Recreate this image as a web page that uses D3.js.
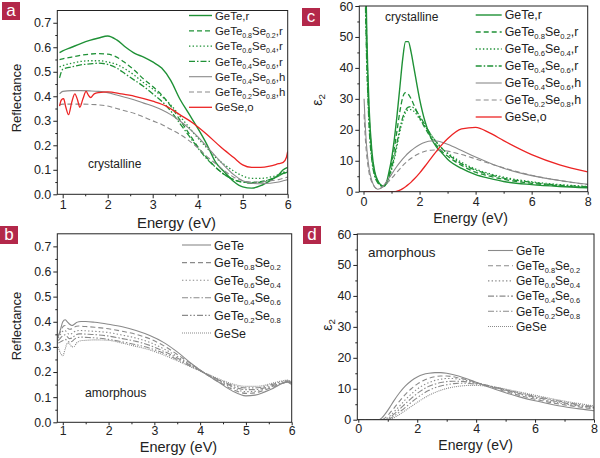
<!DOCTYPE html>
<html><head><meta charset="utf-8">
<script src="https://cdn.jsdelivr.net/npm/d3@7"></script>
<style>body{margin:0;background:#fff}svg{display:block;font-family:"Liberation Sans",Arial,sans-serif}</style>
</head><body><svg id="chart" width="600" height="458"></svg>
<script>
// ---------- Panel a: crystalline reflectance ----------
const eA = [0.93,1.0,1.2,1.4,1.6,1.8,2.0,2.2,2.4,2.6,2.8,3.0,3.2,3.4,3.6,3.8,4.0,4.2,4.4,4.6,4.8,5.0,5.2,5.4,5.6,5.8,5.9,6.0];
const rGeTe_r   = [0.578,0.585,0.60,0.615,0.628,0.638,0.646,0.63,0.60,0.575,0.56,0.54,0.515,0.465,0.39,0.33,0.27,0.205,0.13,0.09,0.052,0.03,0.025,0.035,0.055,0.08,0.1,0.11];
const rTe08_r   = [0.55,0.553,0.56,0.567,0.572,0.574,0.572,0.56,0.535,0.505,0.47,0.44,0.405,0.36,0.305,0.25,0.195,0.15,0.11,0.08,0.06,0.05,0.048,0.052,0.06,0.075,0.085,0.09];
const rTe06_r   = [0.52,0.525,0.535,0.542,0.545,0.545,0.54,0.53,0.51,0.485,0.455,0.43,0.40,0.365,0.32,0.275,0.23,0.19,0.15,0.12,0.095,0.075,0.065,0.065,0.07,0.08,0.09,0.095];
const rTe04_r   = [0.475,0.51,0.52,0.528,0.532,0.535,0.53,0.515,0.49,0.465,0.44,0.41,0.38,0.34,0.29,0.24,0.19,0.145,0.11,0.08,0.06,0.05,0.045,0.05,0.06,0.075,0.085,0.09];
const rTe04_h   = [0.41,0.42,0.423,0.423,0.422,0.42,0.415,0.405,0.395,0.385,0.372,0.36,0.345,0.325,0.30,0.27,0.235,0.195,0.155,0.115,0.08,0.055,0.045,0.043,0.045,0.05,0.055,0.06];
const rTe02_h   = [0.365,0.368,0.368,0.368,0.367,0.365,0.36,0.35,0.34,0.33,0.315,0.30,0.285,0.265,0.245,0.22,0.19,0.155,0.125,0.095,0.07,0.055,0.05,0.05,0.055,0.06,0.065,0.07];
const eRed = [0.93,0.97,1.02,1.07,1.13,1.2,1.27,1.33,1.38,1.45,1.52,1.57,1.62,1.7,1.8,2.0,2.3,2.6,3.0,3.3,3.6,3.9,4.2,4.5,4.8,5.0,5.2,5.4,5.6,5.8,5.9,5.97,6.0];
const rGeSe_o = [0.36,0.385,0.39,0.355,0.325,0.375,0.41,0.385,0.355,0.39,0.42,0.405,0.395,0.41,0.415,0.418,0.41,0.40,0.38,0.36,0.325,0.29,0.245,0.195,0.15,0.12,0.11,0.11,0.115,0.125,0.13,0.15,0.175];

// ---------- Panel c: crystalline eps2 ----------
const eC = [0.02,0.06,0.1,0.15,0.2,0.3,0.4,0.5,0.6,0.7,0.8,0.9,1.0,1.1,1.2,1.3,1.4,1.5,1.6,1.7,1.8,2.0,2.2,2.4,2.6,2.8,3.0,3.5,4.0,4.5,5.0,6.0,7.0,8.0];
const sGeTe_r = [200,90,60,40,27,13,6.5,3.8,2.3,1.7,2.5,6,10.5,17,25,34,43,48.5,48.5,45,40,30,22.5,17.5,14.5,12.5,10.5,7.5,5.5,4.3,3.3,2.3,1.7,1.3];
const sTe08_r = [180,80,55,37,25,12,6,3.5,2.3,1.8,2.5,5,9,14,20,26,30.5,32,31.5,30,28,24,20.5,17.5,15,13,11.5,8.5,6.3,5,4,2.7,1.9,1.4];
const sTe06_r = [170,75,50,34,23,11,5.5,3.2,2.2,1.8,2.3,4,7,10.5,15,19.5,23,25.5,26.5,26.5,26,23.5,21,18.5,16,14,12.5,9.5,7.3,5.8,4.7,3.2,2.3,1.7];
const sTe04_r = [160,70,47,32,21,10,5,3,2,1.7,2.4,4.5,7.5,11.5,16,20.5,24,26.3,27.3,27.5,27,24.5,21.5,18.5,16,14,12.3,9,7,5.5,4.4,3,2.1,1.6];
const sTe04_h = [30,22,16,11,7.5,3.5,1.5,0.8,1.0,1.8,3,4.3,5.6,7,8.3,9.5,10.6,11.6,12.5,13.3,14,15.2,16,16.4,16.4,16,15.3,13.3,11.2,9.3,7.6,5.2,3.6,2.4];
const sTe02_h = [25,18,13,9,6,3,1.5,1,1.1,1.6,2.4,3.3,4.3,5.3,6.4,7.4,8.4,9.3,10.1,10.8,11.4,12.4,13.1,13.4,13.5,13.4,13.1,12,10.6,9.1,7.7,5.3,3.6,2.3];
const sGeSe_o = [0,0,0,0,0,0,0,0,0,0,0,0,0,0,0.2,0.5,1.0,1.6,2.3,3.1,4.0,6.0,8.3,10.7,13,15.2,17.1,20.3,20.8,19.0,16.5,12.0,8.7,6.4];

// ---------- Panel b: amorphous reflectance ----------
const eB = [0.9,0.95,1.0,1.05,1.1,1.15,1.2,1.25,1.3,1.35,1.4,1.5,1.7,2.0,2.3,2.6,2.9,3.2,3.5,3.8,4.1,4.4,4.7,5.0,5.2,5.4,5.6,5.8,5.9,6.0];
const aGeTe   = [0.34,0.37,0.40,0.408,0.40,0.39,0.385,0.39,0.397,0.40,0.401,0.401,0.398,0.39,0.38,0.365,0.345,0.318,0.28,0.235,0.195,0.16,0.125,0.105,0.108,0.12,0.135,0.155,0.16,0.15];
const aTe08   = [0.345,0.36,0.38,0.385,0.375,0.37,0.372,0.378,0.382,0.383,0.382,0.381,0.378,0.372,0.362,0.35,0.332,0.305,0.27,0.233,0.195,0.162,0.132,0.115,0.117,0.128,0.14,0.155,0.16,0.155];
const aTe06   = [0.335,0.35,0.362,0.365,0.355,0.35,0.353,0.36,0.364,0.365,0.365,0.364,0.362,0.357,0.347,0.335,0.318,0.293,0.262,0.228,0.195,0.165,0.138,0.122,0.123,0.132,0.143,0.155,0.16,0.155];
const aTe04   = [0.325,0.335,0.345,0.348,0.34,0.333,0.335,0.343,0.349,0.352,0.352,0.351,0.349,0.343,0.333,0.322,0.306,0.283,0.256,0.226,0.196,0.168,0.143,0.13,0.13,0.137,0.147,0.158,0.162,0.158];
const aTe02   = [0.315,0.32,0.325,0.33,0.325,0.318,0.322,0.33,0.336,0.338,0.339,0.338,0.336,0.33,0.32,0.309,0.295,0.275,0.25,0.222,0.196,0.17,0.148,0.137,0.137,0.142,0.152,0.162,0.165,0.16];
const aGeSe   = [0.30,0.275,0.265,0.29,0.315,0.312,0.30,0.302,0.315,0.322,0.325,0.326,0.328,0.326,0.315,0.302,0.288,0.268,0.245,0.22,0.197,0.173,0.153,0.143,0.143,0.147,0.157,0.165,0.168,0.163];

// ---------- Panel d: amorphous eps2 ----------
const eD = [0,0.5,0.7,0.8,0.9,1.0,1.1,1.2,1.4,1.6,1.8,2.0,2.2,2.4,2.6,2.8,3.0,3.2,3.4,3.6,3.8,4.0,4.3,4.6,5.0,5.5,6.0,6.5,7.0,7.5,8.0];
const dGeTe = [0,0,0,0.6,1.7,3.0,4.5,6.0,8.7,10.9,12.6,13.8,14.6,15.0,15.2,15.2,15.0,14.6,14.1,13.5,12.8,12.1,11.0,10.0,8.7,7.3,6.1,5.1,4.2,3.5,2.9];
const dTe08 = [0,0,0,0,0.5,1.4,2.5,3.6,6.0,8.2,10.0,11.5,12.6,13.4,13.9,14.1,14.1,13.9,13.5,13.1,12.6,12.1,11.2,10.3,9.1,7.8,6.6,5.6,4.8,4.1,3.5];
const dTe06 = [0,0,0,0,0,0.6,1.4,2.4,4.4,6.5,8.3,9.9,11.1,12.0,12.7,13.1,13.3,13.3,13.1,12.8,12.4,12.0,11.3,10.5,9.4,8.2,7.0,6.0,5.1,4.4,3.8];
const dTe04 = [0,0,0,0,0,0.3,0.9,1.7,3.4,5.2,6.9,8.5,9.8,10.8,11.5,12.0,12.3,12.4,12.4,12.3,12.1,11.8,11.3,10.6,9.6,8.4,7.3,6.3,5.4,4.6,4.0];
const dTe02 = [0,0,0,0,0,0.1,0.5,1.1,2.5,4.0,5.6,7.1,8.4,9.5,10.3,10.9,11.3,11.6,11.8,11.8,11.7,11.5,11.1,10.6,9.7,8.6,7.6,6.6,5.7,4.9,4.2];
const dGeSe = [0,0,0,0,0,0,0.2,0.6,1.7,3.0,4.3,5.6,6.8,7.9,8.8,9.5,10.1,10.5,10.8,11.0,11.1,11.1,10.9,10.6,9.9,8.9,7.9,6.9,6.0,5.2,4.4];

// ---------- labels ----------
const legendCrys = ["GeTe,r","GeTe_{0.8}Se_{0.2},r","GeTe_{0.6}Se_{0.4},r","GeTe_{0.4}Se_{0.6},r","GeTe_{0.4}Se_{0.6},h","GeTe_{0.2}Se_{0.8},h","GeSe,o"];
const legendAmor = ["GeTe","GeTe_{0.8}Se_{0.2}","GeTe_{0.6}Se_{0.4}","GeTe_{0.4}Se_{0.6}","GeTe_{0.2}Se_{0.8}","GeSe"];
const ticksRefl = [0,0.1,0.2,0.3,0.4,0.5,0.6,0.7];
const ticksEps = [0,10,20,30,40,50,60];
const ticksEA = [1,2,3,4,5,6];
const ticksEC = [0,2,4,6,8];

// ---------- styles ----------
const GREEN="#1f9136", GRAY="#8a8a8a", RED="#ec2424";
const DASH={solid:null,dash:"5,3",dot:"1.4,2.2",dashdot:"6,2,1.5,2",dashdotdot:"6,2,1.5,2,1.5,2",fine:"1,1"};
const crysStyles=[[GREEN,"solid",1.4],[GREEN,"dash",1.3],[GREEN,"dot",1.3],[GREEN,"dashdot",1.3],[GRAY,"solid",1.1],[GRAY,"dash",1.1],[RED,"solid",1.3]];
const amorStyles=[[GRAY,"solid",1.1],[GRAY,"dash",1.1],[GRAY,"dot",1.1],[GRAY,"dashdot",1.1],[GRAY,"dashdotdot",1.1],[GRAY,"fine",1.1]];

const svg=d3.select("#chart");
const INK="#222";

function richText(sel, str, subSize){
  const parts=str.split(/_\{([^}]*)\}/);
  let prevSub=false;
  parts.forEach((p,i)=>{
    if(p==="") { return; }
    const isSub=i%2===1;
    const t=sel.append("tspan").text(p);
    if(isSub){ t.attr("font-size",subSize).attr("dy",prevSub?0:3); }
    else { t.attr("dy",prevSub?-3:0); }
    prevSub=isSub;
  });
}

let clipId=0;
function panel(o){
  const x=d3.scaleLinear().domain(o.xd).range([o.L,o.R]);
  const y=d3.scaleLinear().domain(o.yd).range([o.B,o.T]);
  const g=svg.append("g");
  const cid="clip"+(clipId++);
  g.append("clipPath").attr("id",cid).append("rect").attr("x",o.L).attr("y",o.T).attr("width",o.R-o.L).attr("height",o.B-o.T);
  const plot=g.append("g").attr("clip-path",`url(#${cid})`);
  o.series.forEach((s,i)=>{
    const st=o.styles[i];
    const pts=s.e.map((e,k)=>[e,s.v[k]]);
    plot.append("path").datum(pts)
      .attr("d",d3.line().x(d=>x(d[0])).y(d=>y(Math.min(d[1],o.yd[1]*3))).curve(d3.curveMonotoneX))
      .attr("fill","none").attr("stroke",st[0]).attr("stroke-width",st[2])
      .attr("stroke-dasharray",DASH[st[1]]);
  });
  const fs=o.tickFs;
  const ax=g.append("g").attr("transform",`translate(0,${o.B})`)
    .call(d3.axisBottom(x).tickValues(o.xt).tickSize(o.tk).tickSizeOuter(0).tickPadding(o.xpad).tickFormat(d3.format("d")));
  const axm=g.append("g").attr("transform",`translate(0,${o.B})`)
    .call(d3.axisBottom(x).tickValues(o.xm).tickSize(2).tickSizeOuter(0).tickFormat(""));
  const ay=g.append("g").attr("transform",`translate(${o.L},0)`)
    .call(d3.axisLeft(y).tickValues(o.yt).tickSize(4).tickSizeOuter(0).tickPadding(2).tickFormat(o.yf));
  const aym=g.append("g").attr("transform",`translate(${o.L},0)`)
    .call(d3.axisLeft(y).tickValues(o.ym).tickSize(2).tickSizeOuter(0).tickFormat(""));
  [ax,axm,ay,aym].forEach(a=>{
    a.select(".domain").remove();
    a.selectAll("line").attr("stroke",INK);
    a.selectAll("text").attr("font-family","Liberation Sans, Arial, sans-serif").attr("font-size",fs).attr("fill",INK);
  });
  g.append("rect").attr("x",o.L).attr("y",o.T).attr("width",o.R-o.L).attr("height",o.B-o.T)
    .attr("fill","none").attr("stroke",INK).attr("stroke-width",1);
  g.append("text").attr("x",(o.L+o.R)/2+o.xtDx).attr("y",o.xtY).attr("text-anchor","middle")
    .attr("font-size",o.titleFs).attr("fill",INK).text("Energy (eV)");
  const yt=g.append("text").attr("transform",`translate(${o.ytX},${o.ytY}) rotate(-90)`)
    .attr("text-anchor","middle").attr("font-size",o.ytFs).attr("fill",INK);
  if(o.eps){ yt.append("tspan").text("ε"); yt.append("tspan").attr("font-size",o.ytFs*0.7).attr("dy",3).text("2"); }
  else yt.text("Reflectance");
  g.append("text").attr("x",o.noteX).attr("y",o.noteY).attr("font-size",o.noteFs).attr("fill",INK).text(o.note);
  o.legend.forEach((lab,i)=>{
    const st=o.styles[i];
    const yy=o.lgY+i*o.lgDy;
    g.append("line").attr("x1",o.lgX1).attr("x2",o.lgX2).attr("y1",yy).attr("y2",yy)
      .attr("stroke",st[0]).attr("stroke-width",st[2]).attr("stroke-dasharray",DASH[st[1]]);
    const t=g.append("text").attr("x",o.lgX2+3).attr("y",yy+o.lgFs*0.36).attr("font-size",o.lgFs).attr("fill",INK);
    richText(t,lab,o.lgFs*0.62);
  });
  g.append("rect").attr("x",o.tag[0]).attr("y",o.tag[1]).attr("width",18).attr("height",18).attr("fill","#b3284a");
  g.append("text").attr("x",o.tag[0]+9).attr("y",o.tag[1]+14).attr("text-anchor","middle")
    .attr("font-size",17).attr("fill","#fff").text(o.letter);
}

// Panel a
panel({L:57.3,R:287.7,T:10.5,B:194.3,xd:[0.88,6],yd:[0,0.75],xt:ticksEA,xm:[1.5,2.5,3.5,4.5,5.5],
  yt:ticksRefl,ym:[0.05,0.15,0.25,0.35,0.45,0.55,0.65],yf:d3.format(".1f"),tickFs:12.5,tk:4,xpad:2,
  series:[{e:eA,v:rGeTe_r},{e:eA,v:rTe08_r},{e:eA,v:rTe06_r},{e:eA,v:rTe04_r},{e:eA,v:rTe04_h},{e:eA,v:rTe02_h},{e:eRed,v:rGeSe_o}],
  styles:crysStyles,legend:legendCrys,lgX1:189,lgX2:212,lgY:15.5,lgDy:15.3,lgFs:11.4,
  titleFs:14.8,xtDx:4,xtY:227.5,ytX:21,ytY:98,ytFs:13,eps:false,
  note:"crystalline",noteX:88,noteY:168,noteFs:12,tag:[2,2],letter:"a"});
// Panel c
panel({L:359.3,R:587.7,T:6,B:191.7,xd:[-0.15,8],yd:[0,60],xt:ticksEC,xm:[1,3,5,7],
  yt:ticksEps,ym:[5,15,25,35,45,55],yf:d3.format("d"),tickFs:12.5,tk:3,xpad:2,
  series:[{e:eC,v:sGeTe_r},{e:eC,v:sTe08_r},{e:eC,v:sTe06_r},{e:eC,v:sTe04_r},{e:eC,v:sTe04_h},{e:eC,v:sTe02_h},{e:eC,v:sGeSe_o}],
  styles:crysStyles,legend:legendCrys,lgX1:475.7,lgX2:501.7,lgY:15,lgDy:17,lgFs:12.4,
  titleFs:14,xtDx:-3,xtY:223,ytX:322,ytY:100,ytFs:14,eps:true,
  note:"crystalline",noteX:385,noteY:21,noteFs:12,tag:[302,8],letter:"c"});
// Panel b
panel({L:57.3,R:291.7,T:233.8,B:422.3,xd:[0.88,6],yd:[0,0.75],xt:ticksEA,xm:[1.5,2.5,3.5,4.5,5.5],
  yt:ticksRefl,ym:[0.05,0.15,0.25,0.35,0.45,0.55,0.65],yf:d3.format(".1f"),tickFs:12.3,tk:3,xpad:1,
  series:[{e:eB,v:aGeTe},{e:eB,v:aTe08},{e:eB,v:aTe06},{e:eB,v:aTe04},{e:eB,v:aTe02},{e:eB,v:aGeSe}],
  styles:amorStyles,legend:legendAmor,lgX1:182,lgX2:211,lgY:245,lgDy:17.6,lgFs:12.5,
  titleFs:14.5,xtDx:4,xtY:451.5,ytX:21,ytY:326,ytFs:13,eps:false,
  note:"amorphous",noteX:85,noteY:397,noteFs:12.3,tag:[0,226],letter:"b"});
// Panel d
panel({L:357.3,R:594,T:234,B:419.7,xd:[-0.034,8],yd:[0,60],xt:ticksEC,xm:[1,3,5,7],
  yt:ticksEps,ym:[5,15,25,35,45,55],yf:d3.format("d"),tickFs:12.5,tk:3,xpad:1,
  series:[{e:eD,v:dGeTe},{e:eD,v:dTe08},{e:eD,v:dTe06},{e:eD,v:dTe04},{e:eD,v:dTe02},{e:eD,v:dGeSe}],
  styles:amorStyles,legend:legendAmor,lgX1:488,lgX2:513,lgY:250.5,lgDy:15.2,lgFs:12,
  titleFs:14,xtDx:0,xtY:450,ytX:332,ytY:325,ytFs:14,eps:true,
  note:"amorphous",noteX:368,noteY:257,noteFs:13.5,tag:[303,226],letter:"d"});
</script></body></html>
